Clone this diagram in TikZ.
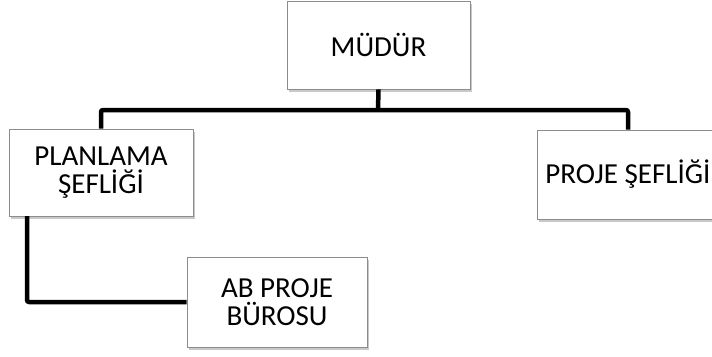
\documentclass[tikz,border=0pt]{standalone}
\usepackage{fontspec}
\setmainfont{Carlito}
\usetikzlibrary{shadows}
\begin{document}
\begin{tikzpicture}[x=1pt,y=-1pt,
  box/.style={draw=black!45, line width=0.8pt, fill=white, inner sep=0pt,
    align=center, font=\fontsize{29}{27.5}\selectfont,
    drop shadow={shadow xshift=2pt, shadow yshift=-3pt, opacity=0.35, fill=black!60}},
  conn/.style={line width=4.5pt, black, rounded corners=2pt, line join=round}]
\clip (0,0) rectangle (712,356);
\fill[white] (0,0) rectangle (712,356);
\node[box, minimum width=183pt, minimum height=88pt] (mud) at (378.5,45) {MÜDÜR};
\node[box, minimum width=184pt, minimum height=87pt] (plan) at (101,172.5) {PLANLAMA\\ŞEFLİĞİ};
\node[box, minimum width=182pt, minimum height=89pt] (proj) at (628,174.5) {PROJE ŞEFLİĞİ};
\node[box, minimum width=180pt, minimum height=90pt] (ab) at (277,302) {AB PROJE\\BÜROSU};
\coordinate (bar) at (378,110);
\coordinate (pl) at (27,216);
\draw[conn] (mud.south) -- (bar);
\draw[conn] (plan.north) |- (bar) -| (proj.north);
\draw[conn] (pl) |- (ab.west);
\end{tikzpicture}
\end{document}
